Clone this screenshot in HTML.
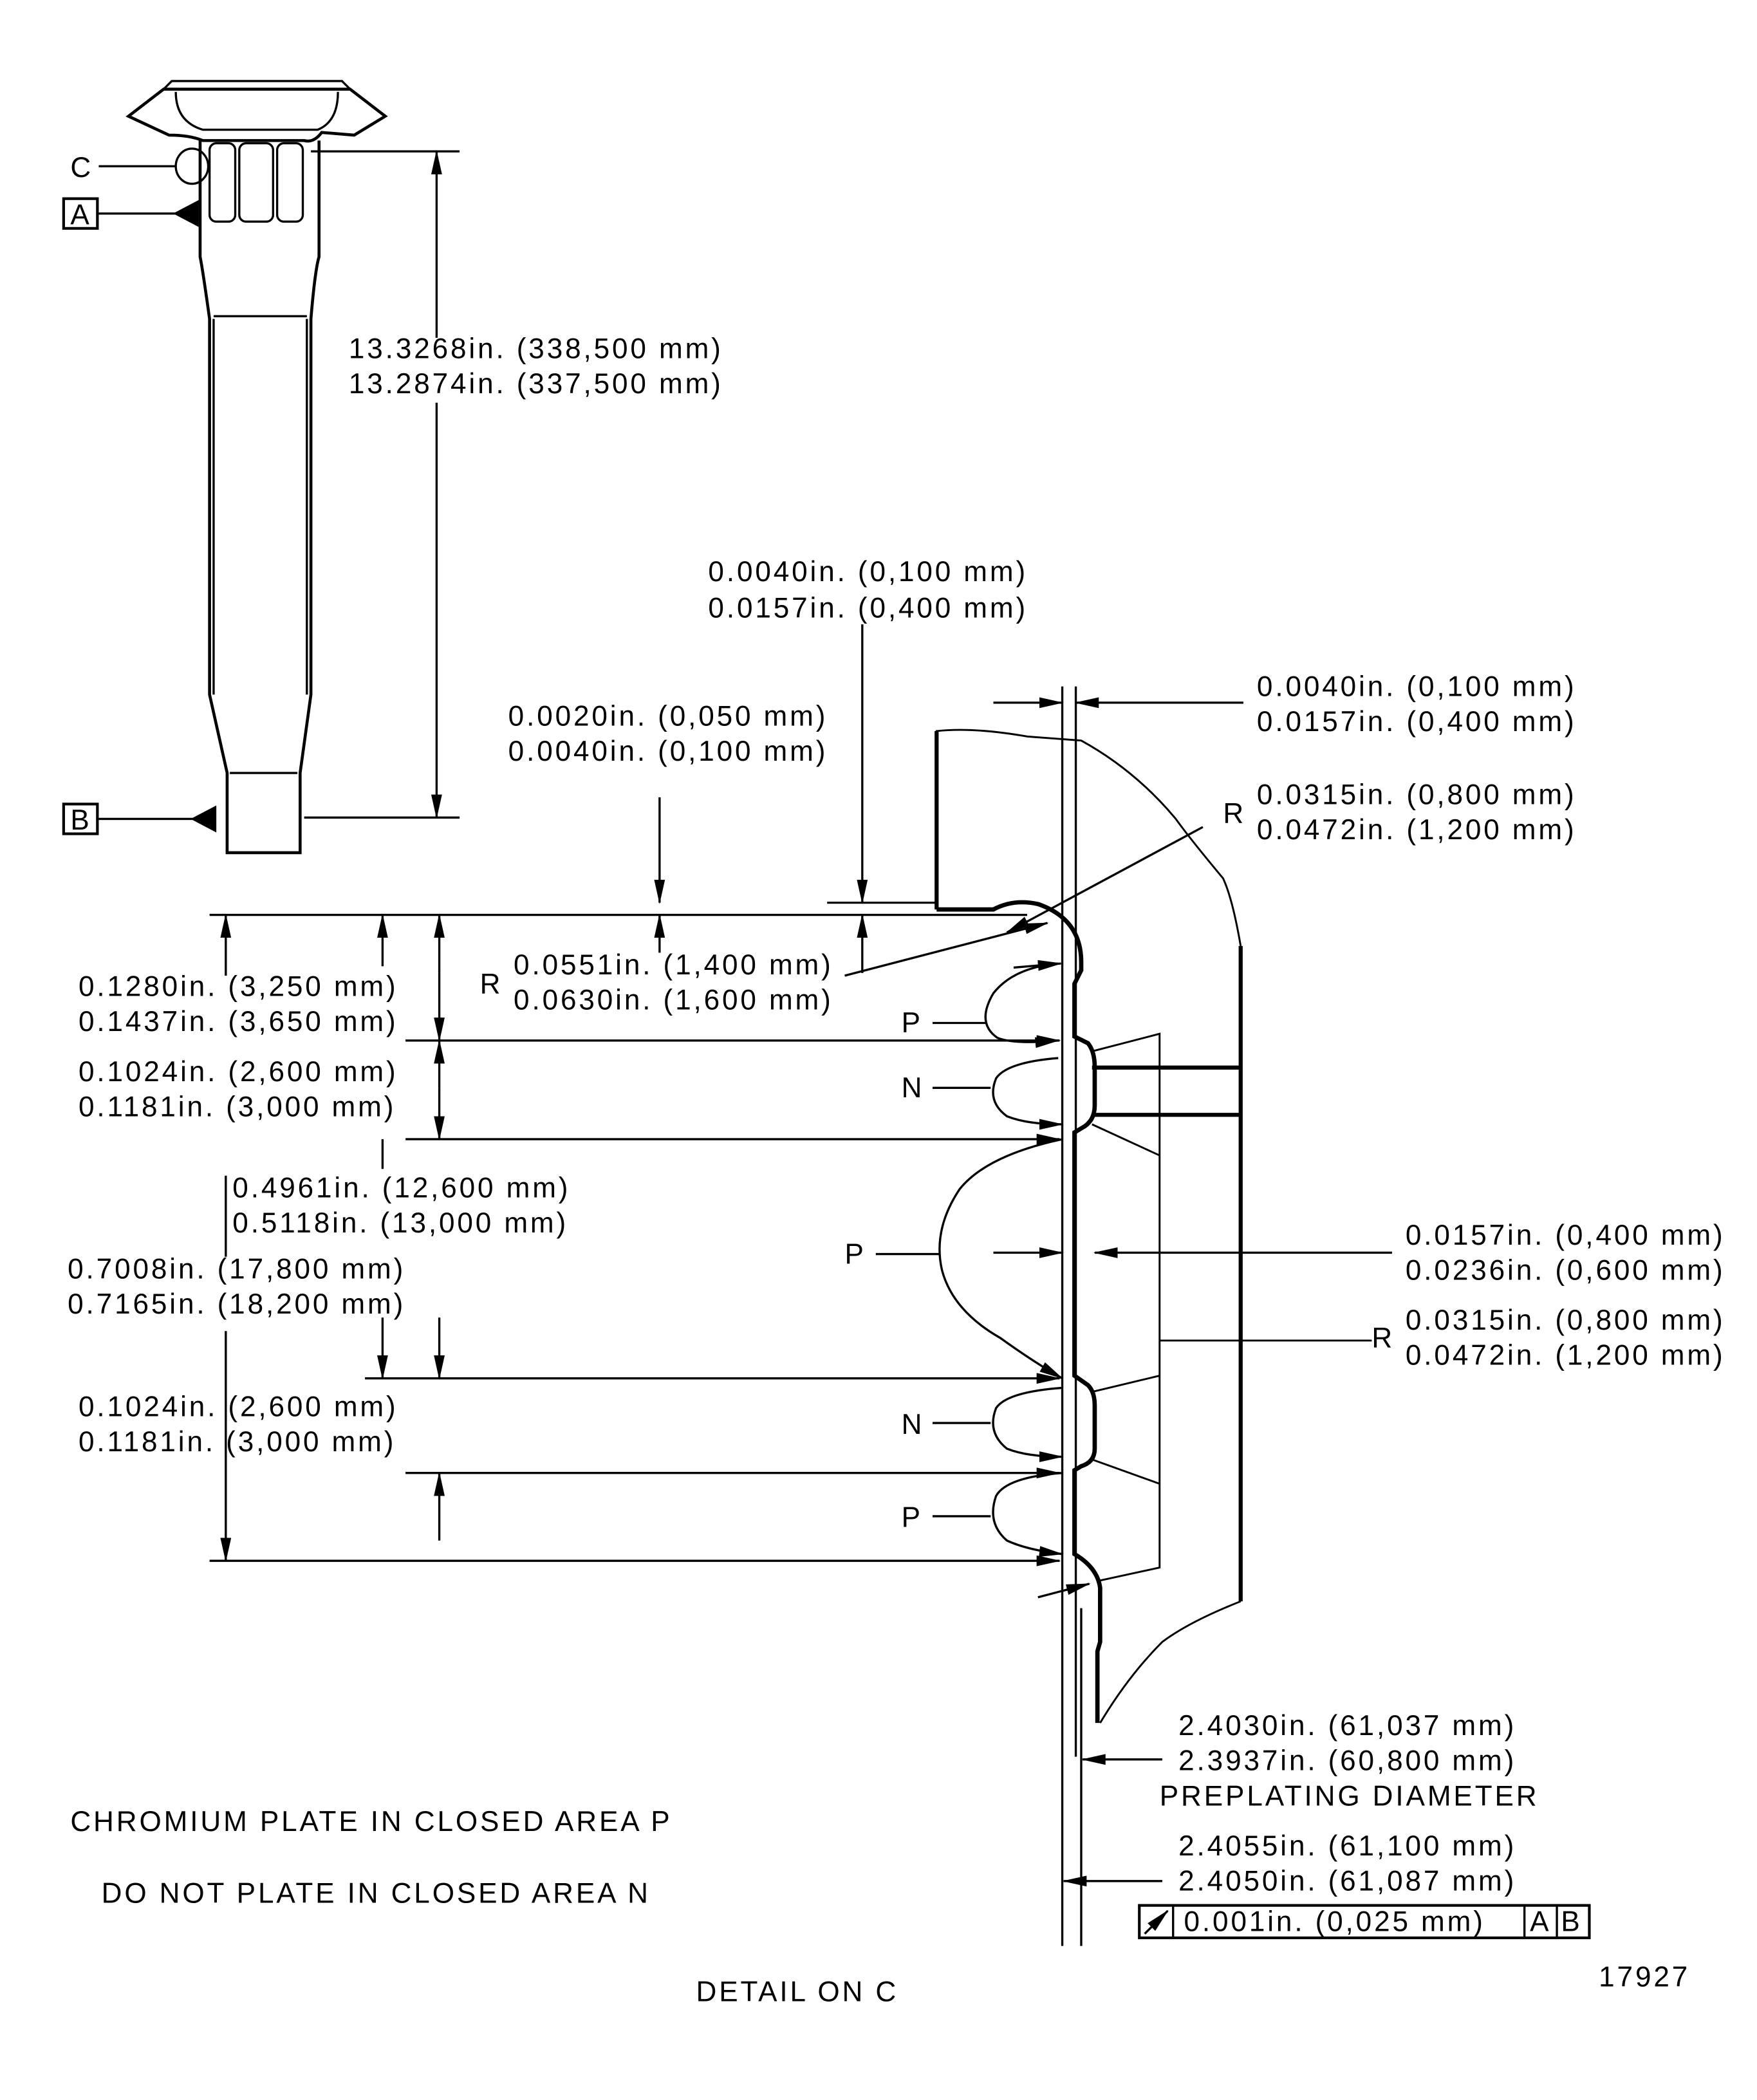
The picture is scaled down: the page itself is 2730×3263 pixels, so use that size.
<!DOCTYPE html>
<html><head><meta charset="utf-8"><style>
html,body{margin:0;padding:0;background:#fff;}
svg{display:block;}
text{font-family:"Liberation Sans",sans-serif;font-size:21px;fill:#000;letter-spacing:1.85px;}
</style></head><body>
<svg width="2730" height="3263" viewBox="0 0 1300 1554" xmlns="http://www.w3.org/2000/svg">
<defs>
<marker id="ar" markerWidth="18" markerHeight="8" refX="17" refY="4" orient="auto" markerUnits="userSpaceOnUse"><path d="M0,0 L18,4 L0,8 Z" fill="#000"/></marker>
</defs>
<rect width="1300" height="1554" fill="#fff"/>
<g fill="none" stroke="#000" stroke-width="1.6">
<!-- PART -->
<path d="M95,86 L121,66 L259,66 L285,86 L262,100 L238,98 Q232,106 225,104 L150,104 Q140,100 125,100 Z" stroke-width="2.2"/>
<path d="M121,66 L127,60 L253,60 L259,66"/>
<path d="M130,68 Q130,90 150,96 L235,96 Q250,90 250,68"/>
<path d="M148,104 L148,190 Q150,200 155,236 L155,514 L168,572 L168,631 L222,631 L222,572 L230,514 L230,236 Q233,200 236,190 L236,104" stroke-width="2.2"/>
<path d="M158,236 L158,514 M227,236 L227,514 M158,234 L227,234 M170,572 L220,572"/>
<rect x="155" y="106" width="19" height="58" rx="5"/>
<rect x="177" y="106" width="25" height="58" rx="5"/>
<rect x="205" y="106" width="19" height="58" rx="5"/>
<ellipse cx="142" cy="123" rx="12" ry="13"/>
<path d="M230,112 L340,112 M225,605 L340,605"/>
<line x1="323" y1="250" x2="323" y2="112" marker-end="url(#ar)"/>
<line x1="323" y1="298" x2="323" y2="605" marker-end="url(#ar)"/>
<path d="M73,123 L130,123 M73,158 L130,158 M73,606 L145,606"/>
<rect x="47" y="147" width="25" height="22" stroke-width="2"/>
<rect x="47" y="595" width="25" height="22" stroke-width="2"/>
</g>
<path d="M128,158 L147,148 L147,168 Z M141,606 L160,596 L160,616 Z" fill="#000"/>
<text x="52" y="131">C</text>
<text x="52" y="166">A</text>
<text x="52" y="614">B</text>
<text x="258" y="265">13.3268in. (338,500 mm)</text>
<text x="258" y="291">13.2874in. (337,500 mm)</text>

<!-- DETAIL -->
<g fill="none" stroke="#000" stroke-width="1.6">
<line x1="786" y1="508" x2="786" y2="1440"/>
<line x1="796" y1="508" x2="796" y2="1300"/>
<line x1="800" y1="1190" x2="800" y2="1440"/>
<!-- housing -->
<path d="M693,673 L693,541 Q720,538 760,545 L800,548 Q840,570 870,606 Q880,620 905,650 Q912,665 918,700" stroke-width="1.4"/>
<path d="M918,700 L918,1185" stroke-width="3"/>
<path d="M918,1185 Q880,1200 860,1215 Q835,1240 814,1275" stroke-width="1.4"/>
<path d="M693,541 L693,673" stroke-width="3"/>
<!-- profile -->
<path d="M693,673 L735,673 Q750,665 768,669 Q800,680 800,712 L800,718 L795,728 L795,767 L805,772 Q810,778 810,790 L810,818 Q810,830 800,835 L795,838 L795,1018 L805,1025 Q810,1030 810,1040 L810,1072 Q810,1082 800,1085 L795,1088 L795,1150 Q812,1160 814,1175 L814,1215 L812,1222 L812,1275" stroke-width="3.2"/>
<path d="M808,790 L918,790 M808,825 L918,825" stroke-width="3"/>
<path d="M808,778 L858,765 L858,1160 L812,1170 M808,832 L858,855 M808,1030 L858,1018 M808,1080 L858,1098 M858,992 L1015,992" stroke-width="1.4"/>
<!-- horizontal extension lines -->
<path d="M155,677 L760,677 M612,668 L693,668"/>
<line x1="300" y1="770" x2="784" y2="770" marker-end="url(#ar)"/>
<line x1="300" y1="843" x2="784" y2="843" marker-end="url(#ar)"/>
<line x1="270" y1="1020" x2="784" y2="1020" marker-end="url(#ar)"/>
<line x1="300" y1="1090" x2="784" y2="1090" marker-end="url(#ar)"/>
<line x1="155" y1="1155" x2="784" y2="1155" marker-end="url(#ar)"/>
<!-- left dims -->
<line x1="167" y1="722" x2="167" y2="677" marker-end="url(#ar)"/>
<line x1="283" y1="715" x2="283" y2="677" marker-end="url(#ar)"/>
<line x1="325" y1="720" x2="325" y2="677" marker-end="url(#ar)"/>
<line x1="325" y1="720" x2="325" y2="770" marker-end="url(#ar)"/>
<line x1="325" y1="805" x2="325" y2="770" marker-end="url(#ar)"/>
<line x1="325" y1="805" x2="325" y2="843" marker-end="url(#ar)"/>
<line x1="283" y1="843" x2="283" y2="865"/>
<line x1="283" y1="975" x2="283" y2="1020" marker-end="url(#ar)"/>
<line x1="325" y1="975" x2="325" y2="1020" marker-end="url(#ar)"/>
<line x1="325" y1="1140" x2="325" y2="1090" marker-end="url(#ar)"/>
<line x1="167" y1="985" x2="167" y2="1155" marker-end="url(#ar)"/>
<line x1="167" y1="870" x2="167" y2="930"/>
<!-- top dims -->
<line x1="488" y1="590" x2="488" y2="668" marker-end="url(#ar)"/>
<line x1="488" y1="705" x2="488" y2="677" marker-end="url(#ar)"/>
<line x1="638" y1="462" x2="638" y2="668" marker-end="url(#ar)"/>
<line x1="638" y1="720" x2="638" y2="677" marker-end="url(#ar)"/>
<line x1="735" y1="520" x2="786" y2="520" marker-end="url(#ar)"/>
<line x1="920" y1="520" x2="796" y2="520" marker-end="url(#ar)"/>
<!-- R leaders -->
<line x1="890" y1="612" x2="745" y2="690" marker-end="url(#ar)"/>
<line x1="625" y1="722" x2="775" y2="683" marker-end="url(#ar)"/>
<!-- P/N loops -->
<path d="M690,757 L730,757"/>
<path d="M783,713 Q750,716 735,735 Q722,757 738,768 Q750,773 783,770" marker-end="url(#ar)"/>
<line x1="750" y1="716" x2="785" y2="713" marker-end="url(#ar)"/>
<path d="M690,805 L733,805"/>
<path d="M783,783 Q745,786 737,798 Q730,815 745,826 Q760,832 786,832" marker-end="url(#ar)"/>
<path d="M648,928 L695,928"/>
<path d="M786,843 Q730,855 710,880 Q690,910 697,940 Q705,970 740,990 Q765,1008 786,1020" marker-end="url(#ar)"/>
<path d="M690,1053 L733,1053"/>
<path d="M786,1027 Q745,1030 737,1042 Q730,1060 745,1072 Q760,1078 786,1078" marker-end="url(#ar)"/>
<path d="M690,1122 L733,1122"/>
<path d="M786,1090 Q745,1093 737,1107 Q730,1127 745,1140 Q760,1147 786,1150" marker-end="url(#ar)"/>
<line x1="768" y1="1182" x2="806" y2="1172" marker-end="url(#ar)"/>
<!-- right dims -->
<line x1="735" y1="927" x2="786" y2="927" marker-end="url(#ar)"/>
<line x1="1030" y1="927" x2="810" y2="927" marker-end="url(#ar)"/>
<line x1="860" y1="1302" x2="801" y2="1302" marker-end="url(#ar)"/>
<line x1="860" y1="1392" x2="787" y2="1392" marker-end="url(#ar)"/>
<rect x="843" y="1410" width="333" height="24" stroke-width="2"/>
<path d="M868,1410 L868,1434 M1128,1410 L1128,1434 M1152,1410 L1152,1434" stroke-width="1.6"/>
<line x1="847" y1="1431" x2="864" y2="1414" marker-end="url(#ar)"/>
</g>
<text x="524" y="430">0.0040in. (0,100 mm)</text>
<text x="524" y="457">0.0157in. (0,400 mm)</text>
<text x="376" y="537">0.0020in. (0,050 mm)</text>
<text x="376" y="563">0.0040in. (0,100 mm)</text>
<text x="930" y="515">0.0040in. (0,100 mm)</text>
<text x="930" y="541">0.0157in. (0,400 mm)</text>
<text x="905" y="609">R</text>
<text x="930" y="595">0.0315in. (0,800 mm)</text>
<text x="930" y="621">0.0472in. (1,200 mm)</text>
<text x="355" y="735">R</text>
<text x="380" y="721">0.0551in. (1,400 mm)</text>
<text x="380" y="747">0.0630in. (1,600 mm)</text>
<text x="58" y="737">0.1280in. (3,250 mm)</text>
<text x="58" y="763">0.1437in. (3,650 mm)</text>
<text x="58" y="800">0.1024in. (2,600 mm)</text>
<text x="58" y="826">0.1181in. (3,000 mm)</text>
<text x="172" y="886">0.4961in. (12,600 mm)</text>
<text x="172" y="912">0.5118in. (13,000 mm)</text>
<text x="50" y="946">0.7008in. (17,800 mm)</text>
<text x="50" y="972">0.7165in. (18,200 mm)</text>
<text x="58" y="1048">0.1024in. (2,600 mm)</text>
<text x="58" y="1074">0.1181in. (3,000 mm)</text>
<text x="667" y="764">P</text>
<text x="667" y="812">N</text>
<text x="625" y="935">P</text>
<text x="667" y="1061">N</text>
<text x="667" y="1130">P</text>
<text x="1040" y="921">0.0157in. (0,400 mm)</text>
<text x="1040" y="947">0.0236in. (0,600 mm)</text>
<text x="1015" y="997">R</text>
<text x="1040" y="984">0.0315in. (0,800 mm)</text>
<text x="1040" y="1010">0.0472in. (1,200 mm)</text>
<text x="872" y="1284">2.4030in. (61,037 mm)</text>
<text x="872" y="1310">2.3937in. (60,800 mm)</text>
<text x="858" y="1336">PREPLATING DIAMETER</text>
<text x="872" y="1373">2.4055in. (61,100 mm)</text>
<text x="872" y="1399">2.4050in. (61,087 mm)</text>
<text x="876" y="1429">0.001in. (0,025 mm)</text>
<text x="1132" y="1429">A</text>
<text x="1155" y="1429">B</text>
<text x="52" y="1355">CHROMIUM PLATE IN CLOSED AREA P</text>
<text x="75" y="1408">DO NOT PLATE IN CLOSED AREA N</text>
<text x="515" y="1481">DETAIL ON C</text>
<text x="1183" y="1470">17927</text>
</svg>
</body></html>
